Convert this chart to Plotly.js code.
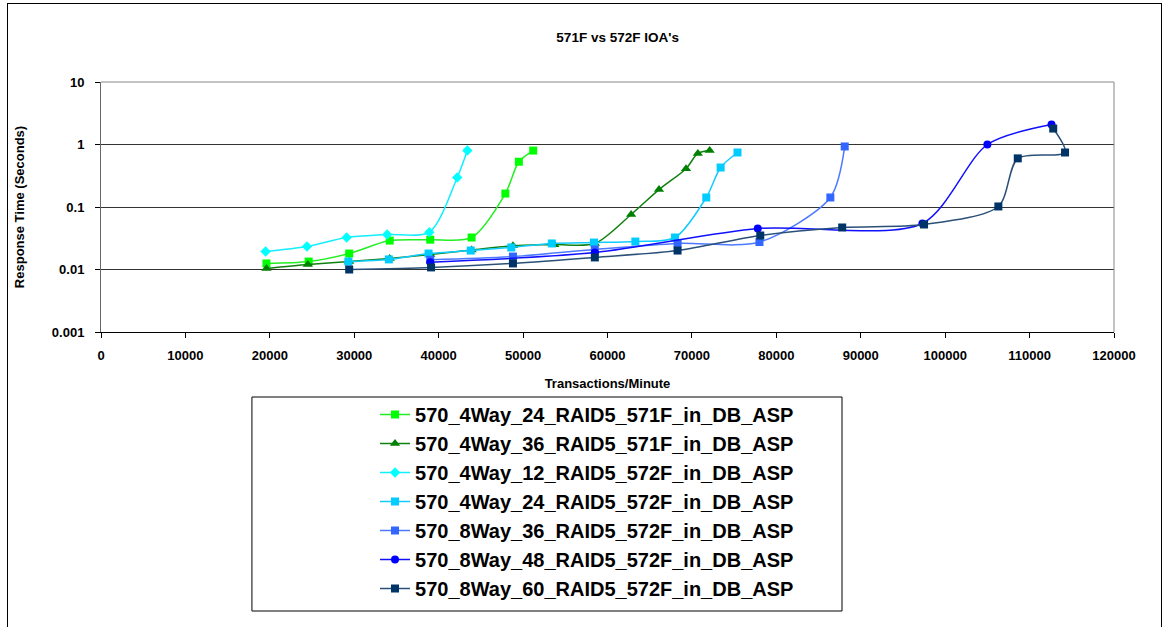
<!DOCTYPE html>
<html>
<head>
<meta charset="utf-8">
<script src="https://cdn.plot.ly/plotly-3.0.1.min.js"></script>
<style>
  html, body { margin: 0; padding: 0; background: #fff; }
  #wrap { position: relative; width: 1162px; height: 627px; overflow: hidden; }
  #chart { position: absolute; left: 0; top: 0; width: 1162px; height: 627px; }
  #frame { position: absolute; left: 7px; top: 3px; width: 1153px; height: 630px; border: 1px solid #000; pointer-events: none; }
</style>
</head>
<body>
<div id="wrap">
  <div id="chart"></div>
  <div id="frame"></div>
</div>
<script>
// ---- data ----
const names = [
  "570_4Way_24_RAID5_571F_in_DB_ASP",
  "570_4Way_36_RAID5_571F_in_DB_ASP",
  "570_4Way_12_RAID5_572F_in_DB_ASP",
  "570_4Way_24_RAID5_572F_in_DB_ASP",
  "570_8Way_36_RAID5_572F_in_DB_ASP",
  "570_8Way_48_RAID5_572F_in_DB_ASP",
  "570_8Way_60_RAID5_572F_in_DB_ASP"
];

const x571F_4W24 = [19600, 24600, 29400, 34200, 39000, 43900, 47900, 49500, 51200];
const y571F_4W24 = [0.0125, 0.0134, 0.018, 0.029, 0.030, 0.0325, 0.164, 0.53, 0.80];

const x571F_4W36 = [19600, 24500, 29400, 34200, 39000, 43900, 48800, 53700, 58500, 62800, 66100, 69300, 70700, 72100];
const y571F_4W36 = [0.0104, 0.012, 0.0134, 0.015, 0.0174, 0.0205, 0.024, 0.025, 0.026, 0.076, 0.19, 0.41, 0.72, 0.80];

const x572F_4W12 = [19500, 24400, 29100, 33900, 38900, 42200, 43400];
const y572F_4W12 = [0.0194, 0.0233, 0.0325, 0.0363, 0.0395, 0.296, 0.80];

const x572F_4W24 = [29300, 34100, 38800, 43800, 48600, 53400, 58400, 63300, 68000, 71700, 73400, 75400];
const y572F_4W24 = [0.0134, 0.0145, 0.018, 0.0201, 0.0225, 0.0261, 0.027, 0.028, 0.0325, 0.142, 0.428, 0.745];

const x572F_8W36 = [39000, 48800, 58500, 68300, 78000, 86400, 88100];
const y572F_8W36 = [0.0143, 0.0161, 0.0209, 0.0261, 0.0275, 0.142, 0.93];

const x572F_8W48 = [39000, 58500, 77800, 97300, 105000, 112600];
const y572F_8W48 = [0.0131, 0.0187, 0.0453, 0.0545, 1.0, 2.09];

const x572F_8W60 = [29400, 39100, 48800, 58500, 68300, 78100, 87800, 97500, 106300, 108600, 114200, 112800];
const y572F_8W60 = [0.0100, 0.0108, 0.0125, 0.0156, 0.0201, 0.035, 0.047, 0.0525, 0.102, 0.60, 0.745, 1.80];

const yTickVals = [0.001, 0.01, 0.1, 1, 10];
const yTickText = ["0.001", "0.01", "0.1", "1", "10"];
const xTickVals = [0, 10000, 20000, 30000, 40000, 50000, 60000, 70000, 80000, 90000, 100000, 110000, 120000];

const chartTitle = "571F vs 572F IOA's";
const xTitle = "Transactions/Minute";
const yTitle = "Response Time (Seconds)";

// ---- styles ----
const seriesX = [x571F_4W24, x571F_4W36, x572F_4W12, x572F_4W24, x572F_8W36, x572F_8W48, x572F_8W60];
const seriesY = [y571F_4W24, y571F_4W36, y572F_4W12, y572F_4W24, y572F_8W36, y572F_8W48, y572F_8W60];
const markerColors = ["#00FF00", "#008000", "#00FFFF", "#00CCFF", "#3366FF", "#0000FF", "#003366"];
const lineColors   = ["#22EE22", "#108010", "#11EEFF", "#11CCFF", "#4D79FF", "#1010FF", "#2A5078"];
const symbols = ["square", "triangle-up", "diamond", "square", "square", "circle", "square"];
const sizes = [8, 9, 8, 8, 8, 8, 8];

const FONT = "Arial, 'Liberation Sans', sans-serif";

const traces = seriesX.map((xs, i) => ({
  type: "scatter",
  mode: "lines+markers",
  name: "<b>" + names[i] + "</b>",
  legendgroup: "g" + i,
  x: xs,
  y: seriesY[i],
  line: { color: lineColors[i], width: 1.5, shape: "spline", smoothing: 0.8 },
  marker: { color: markerColors[i], symbol: symbols[i], size: sizes[i], line: { width: 0 } }
}));

const layout = {
  width: 1162,
  height: 627,
  margin: { l: 101, r: 48, t: 82, b: 295, autoexpand: false },
  paper_bgcolor: "#ffffff",
  plot_bgcolor: "#ffffff",
  showlegend: true,
  font: { family: FONT, color: "#000" },
  title: {
    text: "<b>" + chartTitle + "</b>",
    font: { family: FONT, size: 13.5, color: "#000" },
    x: 0.51, xref: "paper", xanchor: "center",
    y: 1 - 37 / 627, yref: "container", yanchor: "middle"
  },
  xaxis: {
    range: [0, 120000],
    tickvals: xTickVals,
    ticktext: xTickVals.map(v => "<b>" + v + "</b>"),
    ticks: "outside", ticklen: 5, tickcolor: "#000", tickwidth: 1,
    ticklabelstandoff: 6,
    tickfont: { family: FONT, size: 13, color: "#000" },
    showgrid: false, zeroline: false,
    showline: true, linecolor: "#000", linewidth: 1,
    title: { text: "<b>" + xTitle + "</b>", font: { family: FONT, size: 13, color: "#000" }, standoff: 17 }
  },
  yaxis: {
    type: "log",
    range: [-3, 1],
    tickvals: yTickVals,
    ticktext: yTickText.map(t => "<b>" + t + "</b>"),
    ticks: "outside", ticklen: 5, tickcolor: "#000", tickwidth: 1,
    ticklabelstandoff: 8,
    tickfont: { family: FONT, size: 13, color: "#000" },
    showgrid: true, gridcolor: "#333", gridwidth: 1,
    zeroline: false,
    showline: true, linecolor: "#666", linewidth: 1,
    title: { text: "<b>" + yTitle + "</b>", font: { family: FONT, size: 13, color: "#000" }, standoff: 24 }
  },
  legend: {
    x: 0.2705, xanchor: "left", xref: "paper",
    y: -0.252, yanchor: "top", yref: "paper",
    bgcolor: "rgba(0,0,0,0)",
    borderwidth: 0,
    font: { family: FONT, size: 20, color: "#000" },
    traceorder: "grouped",
    tracegroupgap: 0,
    itemsizing: "trace"
  },
  shapes: [
    { type: "line", xref: "paper", yref: "paper", x0: 0, x1: 1, y0: 1, y1: 1, line: { color: "#888", width: 1 } },
    { type: "line", xref: "paper", yref: "paper", x0: 1, x1: 1, y0: 0, y1: 1, line: { color: "#888", width: 1 } },
    { type: "rect", xref: "paper", yref: "paper", x0: 0.149, x1: 0.7315, y0: -1.116, y1: -0.26, line: { color: "#000", width: 1 }, fillcolor: "rgba(0,0,0,0)" }
  ]
};

Plotly.newPlot("chart", traces, layout, { staticPlot: true, displayModeBar: false });
</script>
</body>
</html>
